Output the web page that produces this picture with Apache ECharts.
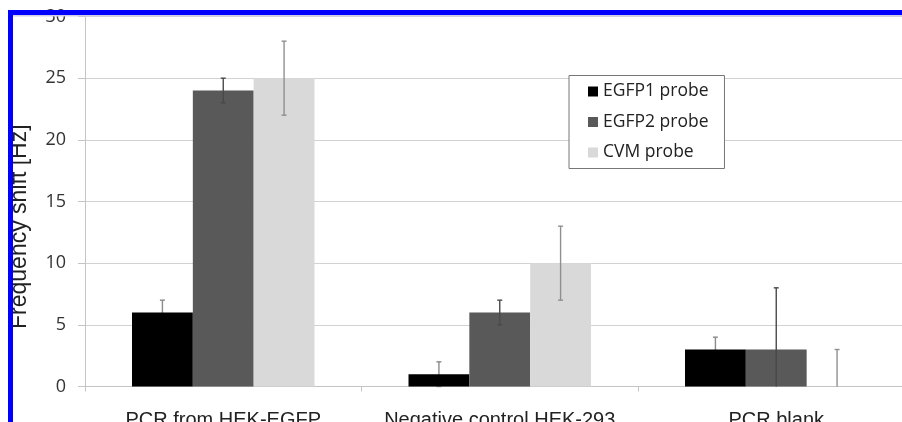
<!DOCTYPE html>
<html>
<head>
<meta charset="utf-8">
<script src="https://cdn.jsdelivr.net/npm/echarts@6/dist/echarts.min.js"></script>
<style>
html,body{margin:0;padding:0;background:#fff;}
#chart{width:902px;height:422px;}
</style>
</head>
<body>
<div id="chart"></div>
<script>
// ---- data ----
var categories = ['PCR from HEK-EGFP', 'Negative control HEK-293', 'PCR blank'];
var seriesNames = ['EGFP1 probe', 'EGFP2 probe', 'CVM probe'];
var egfp1 = [6, 1, 3];
var egfp1Err = [1, 1, 1];
var egfp2 = [24, 6, 3];
var egfp2Err = [1, 1, 5];
var cvm = [25, 10, 0];
var cvmErr = [3, 3, 3];
var yTicks = [0, 5, 10, 15, 20, 25, 30];

var barColors = ['#000000', '#595959', '#d9d9d9'];
var errColors = ['#8a8a8a', '#4a4a4a', '#8f8f8f'];
var BAR_FRAC = 0.22;

function barSeries(name, values, color) {
  return {
    name: name, type: 'bar', data: values,
    barWidth: (BAR_FRAC * 100) + '%', barGap: '0%',
    itemStyle: { color: color }, z: 2, silent: true
  };
}

function errSeries(idx, values, errs, color, z) {
  return {
    type: 'custom', z: z, silent: true, clip: false,
    data: values.map(function (v, i) { return [i, v, errs[i]]; }),
    renderItem: function (params, api) {
      var ci = api.value(0), v = api.value(1), e = api.value(2);
      var band = api.size([1, 0])[0];
      var bw = band * BAR_FRAC;
      var cx = api.coord([ci, v])[0] + (idx - 1) * bw;
      var loV = Math.max(0, v - e), hiV = v + e;
      var yHi = api.coord([ci, hiV])[1];
      var yLo = api.coord([ci, loV])[1];
      var st = { stroke: color, lineWidth: 1.4 };
      var cap = 2.5;
      var children = [
        { type: 'line', shape: { x1: cx, y1: yLo, x2: cx, y2: yHi }, style: st },
        { type: 'line', shape: { x1: cx - cap, y1: yHi, x2: cx + cap, y2: yHi }, style: st }
      ];
      if (v - e >= 0) {
        children.push({ type: 'line', shape: { x1: cx - cap, y1: yLo, x2: cx + cap, y2: yLo }, style: st });
      }
      return { type: 'group', children: children };
    }
  };
}

var chart = echarts.init(document.getElementById('chart'), null, { renderer: 'canvas' });
chart.setOption({
  backgroundColor: '#ffffff',
  animation: false,
  grid: { left: 85, top: 16.5, width: 829.5, height: 370, containLabel: false, outerBoundsMode: 'none' },
  xAxis: {
    type: 'category', data: categories,
    axisLine: { lineStyle: { color: '#c4c4c4', width: 1 } },
    axisTick: { show: true, length: 5, alignWithLabel: false, lineStyle: { color: '#c4c4c4' } },
    axisLabel: { margin: 24, fontFamily: 'Liberation Sans', fontSize: 20, color: '#222', interval: 0 }
  },
  yAxis: {
    type: 'value', min: 0, max: 30, interval: 5,
    axisLine: { show: true, lineStyle: { color: '#c4c4c4', width: 1 } },
    axisTick: { show: true, length: 7, lineStyle: { color: '#c4c4c4' } },
    splitLine: { show: true, lineStyle: { color: '#d2d2d2', width: 1 } },
    axisLabel: {
      margin: 19, fontFamily: 'Open Sans', fontSize: 18, color: '#333',
      padding: [5, 0, 0, 0],
      formatter: function (v) { return yTicks.indexOf(v) >= 0 ? String(v) : ''; }
    }
  },
  legend: {
    orient: 'vertical', left: 569, top: 75.5,
    itemWidth: 10, itemHeight: 10, itemGap: 12.5,
    padding: [7, 16, 7, 19],
    borderColor: '#777', borderWidth: 1, backgroundColor: '#fff',
    icon: 'rect',
    textStyle: { fontFamily: 'Open Sans', fontSize: 17.5, color: '#222', lineHeight: 18 },
    data: seriesNames
  },
  series: [
    errSeries(0, egfp1, egfp1Err, errColors[0], 1),
    barSeries(seriesNames[0], egfp1, barColors[0]),
    barSeries(seriesNames[1], egfp2, barColors[1]),
    barSeries(seriesNames[2], cvm, barColors[2]),
    errSeries(1, egfp2, egfp2Err, errColors[1], 3),
    errSeries(2, cvm, cvmErr, errColors[2], 3)
  ],
  graphic: [
    {
      type: 'text', x: 20, y: 226.7, rotation: Math.PI / 2, z: 50,
      style: {
        text: 'Frequency shift [Hz]', fontFamily: 'Liberation Sans', fontSize: 23,
        fill: '#222', textAlign: 'center', textVerticalAlign: 'middle'
      }
    },
    { type: 'rect', z: 99, shape: { x: 8, y: 15, width: 894, height: 1.5 }, style: { fill: '#cfcfe8' } },
    { type: 'rect', z: 100, shape: { x: 8, y: 10, width: 894, height: 5 }, style: { fill: '#0000ff' } },
    { type: 'rect', z: 100, shape: { x: 8, y: 10, width: 5, height: 412 }, style: { fill: '#0000ff' } }
  ]
});
</script>
</body>
</html>
